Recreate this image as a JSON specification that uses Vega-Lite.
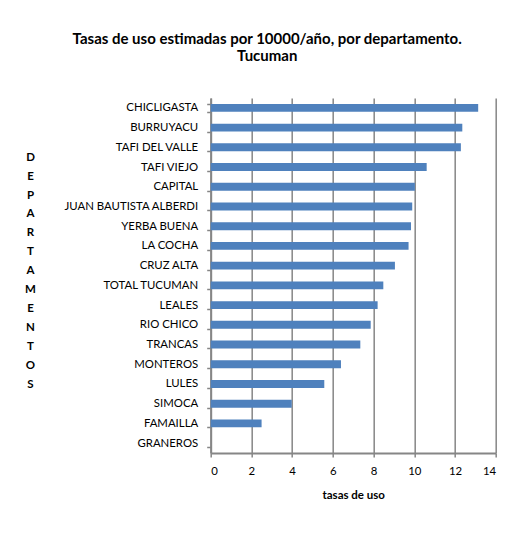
{
  "$schema": "https://vega.github.io/schema/vega-lite/v6.json",
  "autosize": {"type": "none"},
  "padding": {"left": 210.7, "top": 98, "right": 34, "bottom": 80},
  "width": 285,
  "height": 355,
  "background": "white",
  "title": {
    "text": ["Tasas de uso estimadas por 10000/año, por departamento.", "Tucuman"],
    "anchor": "middle",
    "frame": "group",
    "dx": -86,
    "offset": 28,
    "font": "Lato",
    "fontSize": 15,
    "fontWeight": "bold",
    "color": "black",
    "lineHeight": 17.5
  },
  "data": {
    "values": [
      {"departamento": "CHICLIGASTA", "tasa": 13.14},
      {"departamento": "BURRUYACU", "tasa": 12.36},
      {"departamento": "TAFI DEL VALLE", "tasa": 12.29},
      {"departamento": "TAFI VIEJO", "tasa": 10.61},
      {"departamento": "CAPITAL", "tasa": 10.03},
      {"departamento": "JUAN BAUTISTA ALBERDI", "tasa": 9.9},
      {"departamento": "YERBA BUENA", "tasa": 9.84},
      {"departamento": "LA COCHA", "tasa": 9.72},
      {"departamento": "CRUZ ALTA", "tasa": 9.05},
      {"departamento": "TOTAL TUCUMAN", "tasa": 8.48},
      {"departamento": "LEALES", "tasa": 8.2},
      {"departamento": "RIO CHICO", "tasa": 7.86},
      {"departamento": "TRANCAS", "tasa": 7.35},
      {"departamento": "MONTEROS", "tasa": 6.4},
      {"departamento": "LULES", "tasa": 5.58},
      {"departamento": "SIMOCA", "tasa": 3.98},
      {"departamento": "FAMAILLA", "tasa": 2.5},
      {"departamento": "GRANEROS", "tasa": 0}
    ]
  },
  "mark": {"type": "bar", "color": "#4F81BD"},
  "encoding": {
    "y": {
      "field": "departamento",
      "type": "nominal",
      "sort": null,
      "scale": {"paddingInner": 0.6, "paddingOuter": 0.3},
      "axis": {
        "title": ["D","E","P","A","R","T","A","M","E","N","T","O","S"],
        "titleAngle": 0,
        "titleAlign": "center",
        "titleBaseline": "middle",
        "titleX": -180.7,
        "titleY": 59.3,
        "titleLineHeight": 18.9,
        "titleFont": "Lato",
        "titleFontSize": 11.5,
        "titleFontWeight": "bold",
        "titleColor": "black",
        "labelFont": "Lato",
        "labelFontSize": 11.4,
        "labelColor": "black",
        "labelPadding": 9,
        "tickBand": "extent",
        "tickSize": 4,
        "tickColor": "#868686",
        "tickWidth": 1.5,
        "domainColor": "#868686",
        "domainWidth": 2,
        "grid": false
      }
    },
    "x": {
      "field": "tasa",
      "type": "quantitative",
      "scale": {"domain": [0, 14], "nice": false},
      "axis": {
        "title": "tasas de uso",
        "values": [0, 2, 4, 6, 8, 10, 12, 14],
        "titleFont": "Lato",
        "titleFontSize": 11.5,
        "titleFontWeight": "bold",
        "titleColor": "black",
        "titlePadding": 12,
        "labelFont": "Lato",
        "labelFontSize": 11.4,
        "labelColor": "black",
        "labelPadding": 9,
        "tickSize": 4,
        "tickColor": "#868686",
        "tickWidth": 1.5,
        "domainColor": "#868686",
        "domainWidth": 2,
        "grid": true,
        "gridColor": "#868686",
        "gridWidth": 1.5
      }
    }
  },
  "config": {"view": {"stroke": null}}
}
